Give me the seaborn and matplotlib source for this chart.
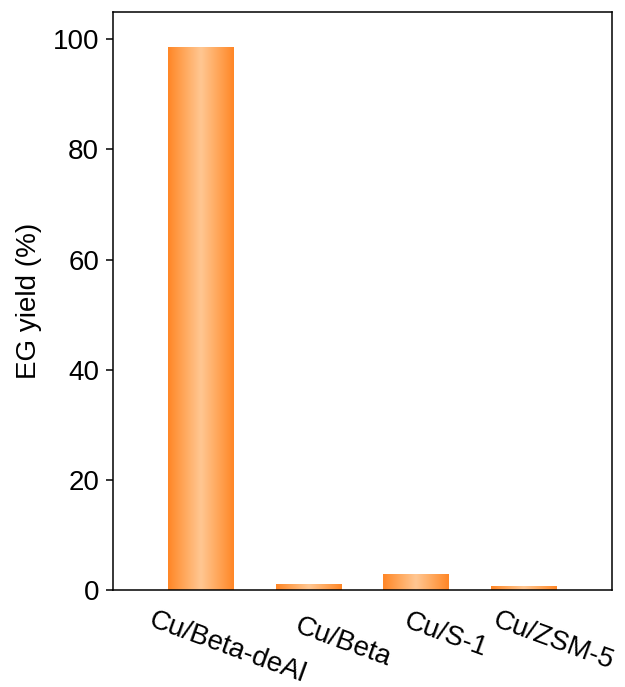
import matplotlib
matplotlib.use("Agg")
import matplotlib.pyplot as plt
import matplotlib.transforms as mtransforms
from matplotlib.colors import LinearSegmentedColormap
import numpy as np
import pandas as pd
import seaborn as sns

catalysts = ["Cu/Beta-deAl", "Cu/Beta", "Cu/S-1", "Cu/ZSM-5"]
eg_yield = [98.5, 1.2, 3.0, 0.8]

sns.set_theme(style="ticks")
plt.rcParams["font.family"] = ["Liberation Sans", "DejaVu Sans"]
plt.rcParams["text.color"] = "black"
plt.rcParams["axes.labelcolor"] = "black"
plt.rcParams["xtick.color"] = "black"
plt.rcParams["ytick.color"] = "black"

df = pd.DataFrame({"catalyst": catalysts, "yield": eg_yield})

fig, ax = plt.subplots(figsize=(6.25, 6.87), dpi=100)
fig.subplots_adjust(left=0.181, right=0.979, top=0.983, bottom=0.141)

sns.barplot(data=df, x="catalyst", y="yield", ax=ax, width=0.61,
            color="#FF8A2A", saturation=1)

# horizontal gradient: orange edges, peach centre
cmap = LinearSegmentedColormap.from_list(
    "peach", ["#FF8626", "#FFA85C", "#FFC793", "#FFA85C", "#FF8626"])
grad = np.linspace(0, 1, 256).reshape(1, -1)
for bar in ax.patches:
    x0, y0 = bar.get_x(), bar.get_y()
    w, h = bar.get_width(), bar.get_height()
    bar.set_facecolor("none")
    bar.set_edgecolor("none")
    im = ax.imshow(grad, cmap=cmap, aspect="auto", extent=(x0, x0 + w, y0, y0 + h),
                   interpolation="bicubic", zorder=2)
    im.set_clip_path(bar)

ax.set_xlim(-0.82, 3.82)
ax.set_ylim(0, 105)
ax.set_yticks([0, 20, 40, 60, 80, 100])
ax.set_xlabel("")
ax.set_ylabel("EG yield (%)", fontsize=20, labelpad=8)
ax.tick_params(axis="y", labelsize=20, length=5, width=1.1, pad=5)
ax.tick_params(axis="x", labelsize=20, length=0, pad=12)
for s in ax.spines.values():
    s.set_linewidth(1.1)
    s.set_color("black")

# (dx, dy) in pixels for each rotated category label
shifts = [(-47, 0), (-8, -6), (-7, -1), (-25, 0)]
for lab, (dx, dy) in zip(ax.get_xticklabels(), shifts):
    lab.set_rotation(-20)
    lab.set_ha("left")
    lab.set_rotation_mode("anchor")
    lab.set_transform(lab.get_transform() + mtransforms.ScaledTranslation(dx / 100, dy / 100, fig.dpi_scale_trans))

fig.savefig("out.png", dpi=100)
